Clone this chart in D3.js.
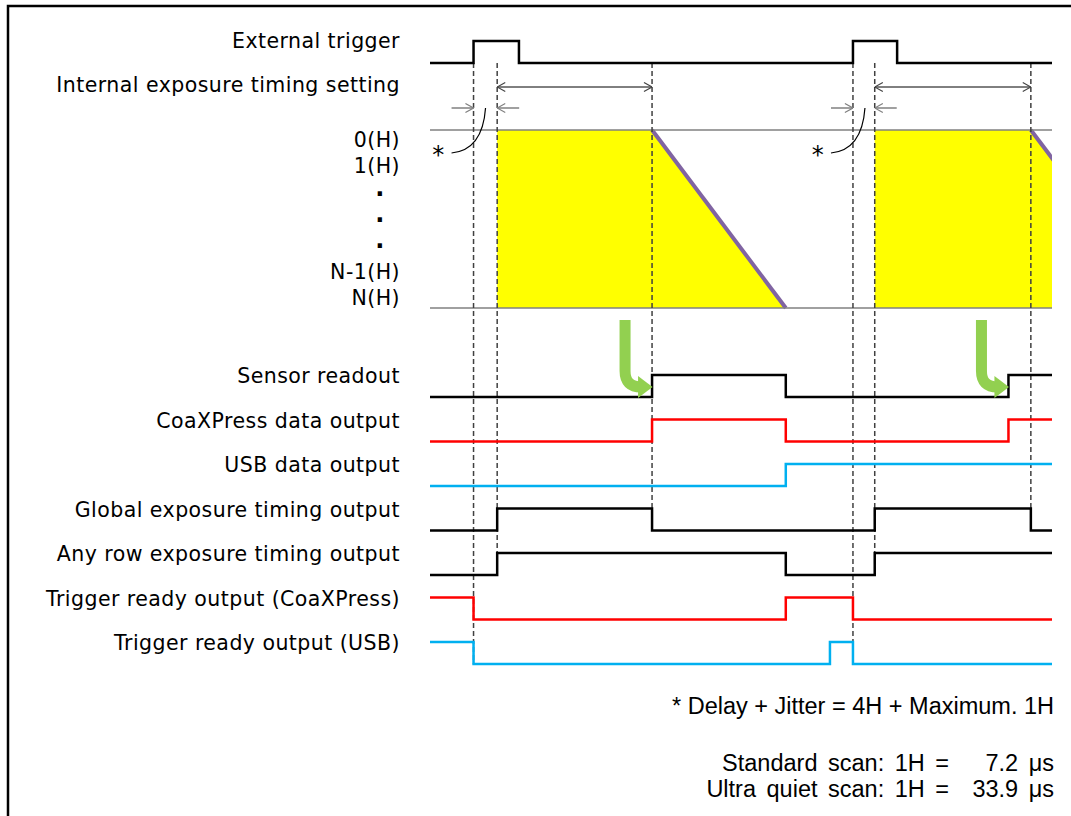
<!DOCTYPE html>
<html>
<head>
<meta charset="utf-8">
<script src="https://cdn.jsdelivr.net/npm/d3@7"></script>
<style>
  body { margin: 0; background: #fff; }
  .label { font-family: 'DejaVu Sans', Verdana, sans-serif; font-size: 20.5px; letter-spacing: 0.45px; fill: #000; }
  .note { font-family: 'Liberation Sans', Arial, sans-serif; font-size: 23.5px; fill: #000; }
</style>
</head>
<body>
<svg width="1071" height="816"></svg>
<script>
const svg = d3.select('svg');
const width = +svg.attr('width');
const height = +svg.attr('height');

// time is in arbitrary units, 0..100 over the timing area
const triggerEdges = [7.0, 14.3, 68.0, 75.1];
const exposureStart = [10.8, 71.5];
const exposureEnd = [35.7, 96.6];
const readoutEnd = [57.2, 118.1];
const readoutStart = [35.7, 93.0];   // where the green arrows land

const lineLabels = ['0(H)', '1(H)', '·', '·', '·', 'N-1(H)', 'N(H)'];

const signalNames = [
  'Sensor readout',
  'CoaXPress data output',
  'USB data output',
  'Global exposure timing output',
  'Any row exposure timing output',
  'Trigger ready output (CoaXPress)',
  'Trigger ready output (USB)'
];
const signalStart = [0, 0, 0, 0, 0, 1, 1];
const signalEdges = [
  [35.7, 57.2, 93.0],
  [35.7, 57.2, 93.0],
  [57.2],
  [10.8, 35.7, 71.5, 96.6],
  [10.8, 57.2, 71.5],
  [7.0, 57.2, 68.0],
  [7.0, 64.3, 68.0]
];
const signalColors = ['#000', '#ff0000', '#00b0f0', '#000', '#000', '#ff0000', '#00b0f0'];

// dashed guides: time and the row where each one stops
const guideTimes = [7.0, 10.8, 35.7, 68.0, 71.5, 96.6];
const guideStops = [
  'Trigger ready output (USB)', 'Any row exposure timing output', 'Global exposure timing output',
  'Trigger ready output (USB)', 'Any row exposure timing output', 'Global exposure timing output'
];

const notes = ['* Delay + Jitter = 4H + Maximum. 1H'];
const scanNames = ['Standard scan: 1H =', 'Ultra quiet scan: 1H ='];
const scanValues = ['7.2 μs', '33.9 μs'];

// layout
const left = 430, right = 1052;
const amp = 22;
const trigLow = 63;
const labelX = 400;

const xScale = d3.scaleLinear().domain([0, 100]).range([left, right]);
const rowScale = d3.scalePoint().domain(signalNames).range([397, 664]);
const lineScale = d3.scaleLinear().domain([0, 1]).range([130, 308]);
const labelScale = d3.scalePoint().domain(d3.range(lineLabels.length)).range([147, 305]);

// frame
svg.append('rect')
  .attr('x', 8).attr('y', 6)
  .attr('width', width + 20).attr('height', height + 20)
  .attr('fill', 'none').attr('stroke', '#000').attr('stroke-width', 2.5);

const defs = svg.append('defs');
const chevron = (id, color) => defs.append('marker')
  .attr('id', id)
  .attr('viewBox', '0 0 10 12')
  .attr('refX', 10).attr('refY', 6)
  .attr('markerWidth', 9).attr('markerHeight', 11)
  .attr('markerUnits', 'userSpaceOnUse')
  .attr('orient', 'auto-start-reverse')
  .append('path')
    .attr('d', 'M1,1 L10,6 L1,11')
    .attr('fill', 'none').attr('stroke', color).attr('stroke-width', 1.3);
chevron('chev-dark', '#444');
chevron('chev-gray', '#808080');

defs.append('clipPath').attr('id', 'area-clip')
  .append('rect').attr('x', left).attr('y', 0).attr('width', right - left).attr('height', height);

// step path from toggle times
const stepPath = (start, edges, yLow) => {
  let level = start;
  const y = l => yLow - l * amp;
  let d = `M${xScale(0)},${y(level)}`;
  edges.forEach(t => {
    d += `H${xScale(t)}`;
    level = 1 - level;
    d += `V${y(level)}`;
  });
  return d + `H${xScale(100)}`;
};

// exposure area (yellow) with the rolling readout edge
const area = svg.append('g').attr('clip-path', 'url(#area-clip)');
exposureStart.forEach((s, i) => {
  const pts = [
    [xScale(s), lineScale(0)], [xScale(exposureEnd[i]), lineScale(0)],
    [xScale(readoutEnd[i]), lineScale(1)], [xScale(s), lineScale(1)]
  ];
  area.append('polygon')
    .attr('points', pts.map(p => p.join(',')).join(' '))
    .attr('fill', '#ffff00');
  area.append('line')
    .attr('x1', xScale(exposureEnd[i])).attr('y1', lineScale(0))
    .attr('x2', xScale(readoutEnd[i])).attr('y2', lineScale(1))
    .attr('stroke', '#8064a2').attr('stroke-width', 4);
});

[0, 1].forEach(v => svg.append('line')
  .attr('x1', left).attr('x2', right)
  .attr('y1', lineScale(v)).attr('y2', lineScale(v))
  .attr('stroke', '#808080').attr('stroke-width', 1.5));

// dashed guides
svg.selectAll('.guide').data(guideTimes).enter().append('line')
  .attr('class', 'guide')
  .attr('x1', d => xScale(d)).attr('x2', d => xScale(d))
  .attr('y1', trigLow)
  .attr('y2', (d, i) => rowScale(guideStops[i]))
  .attr('stroke', '#404040').attr('stroke-width', 1.5)
  .attr('stroke-dasharray', '5,3');

// external trigger
svg.append('path')
  .attr('d', stepPath(0, triggerEdges, trigLow))
  .attr('fill', 'none').attr('stroke', '#000').attr('stroke-width', 2.5);

// internal exposure setting arrows
exposureStart.forEach((s, i) => {
  svg.append('line')
    .attr('x1', xScale(s)).attr('x2', xScale(exposureEnd[i]))
    .attr('y1', 87).attr('y2', 87)
    .attr('stroke', '#000').attr('stroke-width', 1)
    .attr('marker-start', 'url(#chev-dark)').attr('marker-end', 'url(#chev-dark)');
});

// delay + jitter arrows and asterisk callout
triggerEdges.filter((d, i) => i % 2 === 0).forEach((t, i) => {
  const xr = xScale(t), xe = xScale(exposureStart[i]);
  svg.append('line')
    .attr('x1', xr - 22).attr('x2', xr).attr('y1', 108).attr('y2', 108)
    .attr('stroke', '#808080').attr('stroke-width', 1.5)
    .attr('marker-end', 'url(#chev-gray)');
  svg.append('line')
    .attr('x1', xe + 22).attr('x2', xe).attr('y1', 108).attr('y2', 108)
    .attr('stroke', '#808080').attr('stroke-width', 1.5)
    .attr('marker-end', 'url(#chev-gray)');
  svg.append('path')
    .attr('d', `M${xr - 22},153 Q${xr + 9},150 ${xr + 12},108`)
    .attr('fill', 'none').attr('stroke', '#000').attr('stroke-width', 1.2);
  svg.append('text')
    .attr('class', 'label')
    .style('font-size', '24px')
    .attr('x', xr - 35).attr('y', 163)
    .attr('text-anchor', 'middle')
    .text('*');
});

// signals
svg.selectAll('.signal').data(signalNames).enter().append('path')
  .attr('class', 'signal')
  .attr('d', (d, i) => stepPath(signalStart[i], signalEdges[i], rowScale(d)))
  .attr('fill', 'none')
  .attr('stroke', (d, i) => signalColors[i])
  .attr('stroke-width', 2.5);

// green arrows from the readout edge to sensor readout
readoutStart.forEach(t => {
  const x = xScale(t);
  svg.append('path')
    .attr('d', `M${x - 27},320 V371 Q${x - 27},387 ${x - 11},387 H${x - 12}`)
    .attr('fill', 'none').attr('stroke', '#92d050').attr('stroke-width', 11);
  svg.append('polygon')
    .attr('points', `${x - 14},376 ${x + 0.5},387 ${x - 14},398`)
    .attr('fill', '#92d050');
});

// labels
svg.append('text').attr('class', 'label')
  .attr('x', labelX).attr('y', 48).attr('text-anchor', 'end')
  .text('External trigger');
svg.append('text').attr('class', 'label')
  .attr('x', labelX).attr('y', 92).attr('text-anchor', 'end')
  .text('Internal exposure timing setting');

svg.selectAll('.line-label').data(lineLabels).enter().append('text')
  .attr('class', 'label line-label')
  .attr('x', d => d === '·' ? labelX - 20 : labelX)
  .attr('y', (d, i) => labelScale(i) + (d === '·' ? 2 : 0))
  .attr('text-anchor', d => d === '·' ? 'middle' : 'end')
  .style('font-weight', d => d === '·' ? 'bold' : null)
  .style('font-size', d => d === '·' ? '24px' : null)
  .text(d => d);

svg.selectAll('.signal-label').data(signalNames).enter().append('text')
  .attr('class', 'label signal-label')
  .attr('x', labelX)
  .attr('y', d => rowScale(d) - 14)
  .attr('text-anchor', 'end')
  .text(d => d);

// notes
svg.append('text').attr('class', 'note')
  .attr('x', 1054).attr('y', 714).attr('text-anchor', 'end')
  .text(notes[0]);
scanNames.forEach((s, i) => {
  svg.append('text').attr('class', 'note')
    .attr('x', 949).attr('y', 771 + i * 26).attr('text-anchor', 'end')
    .attr('word-spacing', 4)
    .text(s);
  svg.append('text').attr('class', 'note')
    .attr('x', 1054).attr('y', 771 + i * 26).attr('text-anchor', 'end')
    .attr('word-spacing', 4)
    .text(scanValues[i]);
});
</script>
</body>
</html>
